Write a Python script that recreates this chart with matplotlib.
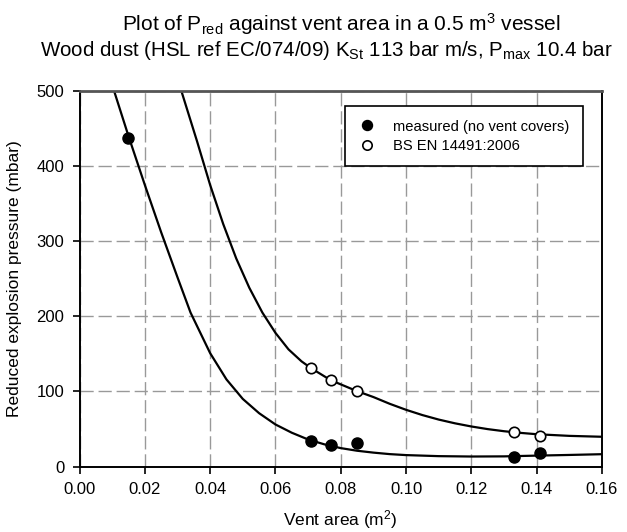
import matplotlib
matplotlib.use('Agg')
import matplotlib.pyplot as plt

plt.rcParams['font.family'] = ['Liberation Sans', 'DejaVu Sans']
plt.rcParams['mathtext.fontset'] = 'custom'
plt.rcParams['mathtext.rm'] = 'Liberation Sans'
plt.rcParams['mathtext.it'] = 'Liberation Sans'

# measured points (no vent covers)
meas_x = [0.015, 0.071, 0.077, 0.085, 0.133, 0.141]
meas_y = [438, 34, 28, 31, 13, 18]

# BS EN 14491:2006 points
bs_x = [0.071, 0.077, 0.085, 0.133, 0.141]
bs_y = [131, 115, 101, 46, 41]

# fitted curves
fit_meas_x = [0.0106, 0.015, 0.020, 0.025, 0.030, 0.034, 0.040, 0.045, 0.050,
              0.055, 0.060, 0.065, 0.070, 0.075, 0.080, 0.085, 0.090, 0.095,
              0.100, 0.110, 0.120, 0.130, 0.140, 0.150, 0.160]
fit_meas_y = [500, 440, 375, 312, 252, 205, 151, 116, 90,
              71, 56, 45, 36, 29.5, 24.5, 21, 18.5, 16.5,
              15.2, 13.8, 13.3, 13.5, 14.5, 15.4, 16.4]

fit_bs_x = [0.0312, 0.036, 0.040, 0.044, 0.048, 0.052, 0.056, 0.060, 0.064,
            0.068, 0.0709, 0.0769, 0.0849, 0.090, 0.095, 0.100, 0.105, 0.110,
            0.115, 0.120, 0.125, 0.130, 0.135, 0.140, 0.150, 0.160]
fit_bs_y = [500, 433, 375, 323, 277, 238, 205, 178, 156,
            140, 131, 115, 100.5, 92.5, 83.5, 75.5, 68.5, 62.5,
            57.5, 53.3, 49.8, 47, 44.8, 43, 40.8, 39.6]

fig = plt.figure(figsize=(6.27, 5.32), dpi=100)
ax = fig.add_axes([0.1268, 0.1231, 0.8333, 0.7058])

ax.plot(fit_meas_x, fit_meas_y, color='black', lw=1.6, zorder=2)
ax.plot(fit_bs_x, fit_bs_y, color='black', lw=1.6, zorder=2)
ax.plot(meas_x, meas_y, 'o', color='black', ms=8, zorder=3,
        label='measured (no vent covers)')
ax.plot(bs_x, bs_y, 'o', mfc='white', mec='black', mew=1.2, ms=7.5, zorder=3,
        label='BS EN 14491:2006')

ax.set_xlim(0, 0.16)
ax.set_ylim(0, 500)
ax.set_xticks([0.00, 0.02, 0.04, 0.06, 0.08, 0.10, 0.12, 0.14, 0.16])
ax.set_xticklabels(['0.00', '0.02', '0.04', '0.06', '0.08', '0.10', '0.12', '0.14', '0.16'])
ax.set_yticks([0, 100, 200, 300, 400, 500])
ax.grid(True, color='#999999', linestyle=(0, (9.5, 3.5)), linewidth=1.0)
ax.set_axisbelow(True)
ax.tick_params(direction='out', length=5, width=1.2, labelsize=12, pad=6)
for s in ax.spines.values():
    s.set_linewidth(1.4)
ax.spines['top'].set_color('#555555')
ax.spines['top'].set_linewidth(2.0)

ax.set_xlabel('Vent area (m$^2$)', fontsize=12.5, labelpad=8)
ax.set_ylabel('Reduced explosion pressure (mbar)', fontsize=12.5, labelpad=10)

fig.text(0.545, 0.955, 'Plot of P$_{\\rm red}$ against vent area in a 0.5 m$^3$ vessel',
         ha='center', va='center', fontsize=15)
fig.text(0.520, 0.905, 'Wood dust (HSL ref EC/074/09) K$_{\\rm St}$ 113 bar m/s, P$_{\\rm max}$ 10.4 bar',
         ha='center', va='center', fontsize=14.8)

leg = ax.legend(loc='upper right', fontsize=10.6, frameon=True, fancybox=False,
                edgecolor='black', framealpha=1, borderpad=0.9, handletextpad=1.2,
                handlelength=1.2, markerscale=0.9,
                bbox_to_anchor=(0.977, 0.979), labelspacing=0.35)
leg.get_frame().set_linewidth(1.2)

fig.savefig('out.png', dpi=100)
